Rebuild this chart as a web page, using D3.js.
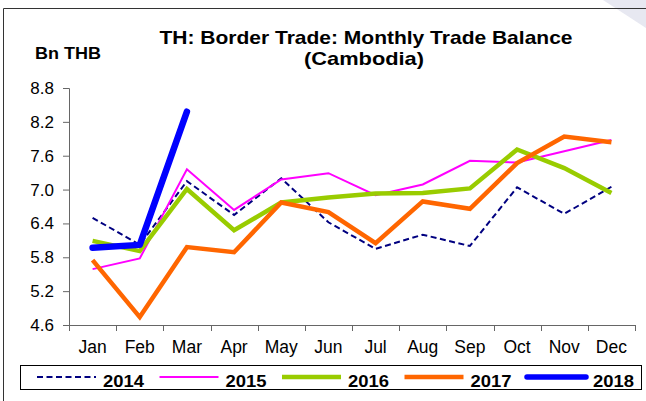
<!DOCTYPE html>
<html>
<head>
<meta charset="utf-8">
<script src="https://cdn.jsdelivr.net/npm/d3@7/dist/d3.min.js"></script>
<style>
  html, body { margin: 0; padding: 0; background: #fff; }
  svg { display: block; font-family: "Liberation Sans", Arial, sans-serif; }
</style>
</head>
<body>
<svg id="chart" width="646" height="401"></svg>
<script>
// Monthly trade balance with Cambodia, billion THB
const months = ["Jan", "Feb", "Mar", "Apr", "May", "Jun", "Jul", "Aug", "Sep", "Oct", "Nov", "Dec"];
const yTicks = [4.6, 5.2, 5.8, 6.4, 7.0, 7.6, 8.2, 8.8];
const years = ["2014", "2015", "2016", "2017", "2018"];
const values2014 = [6.50, 6.02, 7.15, 6.55, 7.20, 6.42, 5.95, 6.20, 6.00, 7.04, 6.57, 7.05];
const values2015 = [5.59, 5.78, 7.36, 6.64, 7.18, 7.29, 6.90, 7.09, 7.51, 7.48, 7.68, 7.88];
const values2016 = [6.09, 5.91, 7.01, 6.28, 6.77, 6.86, 6.93, 6.94, 7.02, 7.71, 7.38, 6.94];
const values2017 = [5.75, 4.74, 5.98, 5.89, 6.77, 6.60, 6.05, 6.79, 6.66, 7.47, 7.94, 7.84];
const values2018 = [5.97, 6.02, 8.38];

const seriesList = [
  { name: years[0], values: values2014, color: "#000080", width: 2,   dash: "6,3.5", cap: "butt",  join: "miter" },
  { name: years[1], values: values2015, color: "#FF00FF", width: 2,   dash: null,    cap: "butt",  join: "miter" },
  { name: years[2], values: values2016, color: "#99CC00", width: 4.5, dash: null,    cap: "butt",  join: "miter" },
  { name: years[3], values: values2017, color: "#FF6600", width: 4.5, dash: null,    cap: "butt",  join: "miter" },
  { name: years[4], values: values2018, color: "#0000FF", width: 6.5, dash: null,    cap: "round", join: "round" }
];

const svg = d3.select("#chart");
const plot = { left: 69, right: 635, top: 88, bottom: 325 };

// page decoration: outer frame and the light corner fold
svg.append("polygon")
  .attr("points", "603,0 646,0 646,28")
  .attr("fill", "#e7e8f1");
svg.append("path")
  .attr("d", "M3.5,401 V8.5 H646")
  .attr("fill", "none")
  .attr("stroke", "#333")
  .attr("stroke-width", 1);

const x = d3.scaleBand().domain(months).range([plot.left, plot.right]).padding(0);
const y = d3.scaleLinear().domain([4.6, 8.8]).range([plot.bottom, plot.top]);

// titles
svg.append("text")
  .attr("x", 366).attr("y", 44)
  .attr("text-anchor", "middle")
  .attr("font-weight", "bold").attr("font-size", 19)
  .attr("textLength", 413).attr("lengthAdjust", "spacingAndGlyphs")
  .text("TH: Border Trade: Monthly Trade Balance");
svg.append("text")
  .attr("x", 364).attr("y", 65)
  .attr("text-anchor", "middle")
  .attr("font-weight", "bold").attr("font-size", 19)
  .attr("textLength", 120).attr("lengthAdjust", "spacingAndGlyphs")
  .text("(Cambodia)");
svg.append("text")
  .attr("x", 35).attr("y", 59)
  .attr("font-weight", "bold").attr("font-size", 17)
  .attr("textLength", 66).attr("lengthAdjust", "spacingAndGlyphs")
  .text("Bn THB");

// y axis
const yAxis = d3.axisLeft(y).tickValues(yTicks).tickFormat(d3.format(".1f")).tickSize(6).tickPadding(9);
const gy = svg.append("g").attr("transform", `translate(${plot.left},0)`).call(yAxis);
gy.select(".domain").attr("stroke", "#666").attr("d", `M-6,${plot.top + 0.5}H0.5V${plot.bottom + 0.5}`);
gy.selectAll(".tick line").attr("stroke", "#666");
gy.selectAll(".tick text").attr("font-size", 17).attr("fill", "#000").attr("font-family", "Liberation Sans, Arial, sans-serif");

// x axis: ticks on category boundaries, labels centred under each month
const gx = svg.append("g").attr("transform", `translate(0,${plot.bottom})`);
gx.append("line")
  .attr("x1", plot.left).attr("x2", plot.right)
  .attr("y1", 0.5).attr("y2", 0.5)
  .attr("stroke", "#666");
const boundaries = months.map(m => x(m)).concat([x(months[months.length - 1]) + x.bandwidth()]);
gx.selectAll("line.tick").data(boundaries).join("line")
  .attr("class", "tick")
  .attr("x1", d => Math.round(d) + 0.5).attr("x2", d => Math.round(d) + 0.5)
  .attr("y1", 0).attr("y2", 6)
  .attr("stroke", "#666");
gx.selectAll("text").data(months).join("text")
  .attr("x", d => x(d) + x.bandwidth() / 2)
  .attr("y", 28)
  .attr("text-anchor", "middle")
  .attr("font-size", 17.5)
  .text(d => d);

// series lines
const line = d3.line()
  .x((d, i) => x(months[i]) + x.bandwidth() / 2)
  .y(d => y(d));

svg.append("g").selectAll("path").data(seriesList).join("path")
  .attr("d", s => line(s.values))
  .attr("fill", "none")
  .attr("stroke", s => s.color)
  .attr("stroke-width", s => s.width)
  .attr("stroke-dasharray", s => s.dash)
  .attr("stroke-linecap", s => s.cap)
  .attr("stroke-linejoin", s => s.join)
  .attr("stroke-miterlimit", 10);

// legend
const legend = svg.append("g");
legend.append("rect")
  .attr("x", 20.5).attr("y", 365.5)
  .attr("width", 621).attr("height", 24)
  .attr("fill", "#fff").attr("stroke", "#000");
const itemX = d3.scalePoint().domain(years).range([37, 527]);
const items = legend.selectAll("g.item").data(seriesList).join("g")
  .attr("class", "item")
  .attr("transform", s => `translate(${itemX(s.name)},0)`);
items.append("line")
  .attr("x1", 0).attr("x2", 59)
  .attr("y1", 377).attr("y2", 377)
  .attr("stroke", s => s.color)
  .attr("stroke-width", s => Math.min(s.width, 5.5))
  .attr("stroke-dasharray", s => s.dash)
  .attr("stroke-linecap", s => s.cap);
items.append("text")
  .attr("x", 66).attr("y", 387)
  .attr("font-weight", "bold").attr("font-size", 16.5)
  .attr("textLength", 41).attr("lengthAdjust", "spacingAndGlyphs")
  .text(s => s.name);
</script>
</body>
</html>
